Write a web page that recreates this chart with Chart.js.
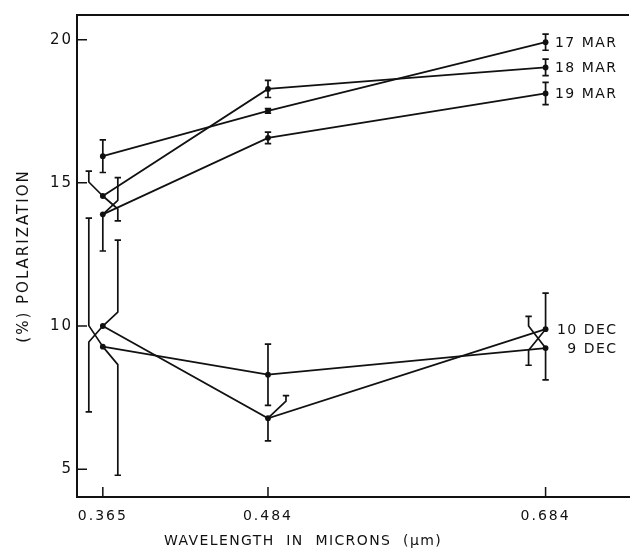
<!DOCTYPE html>
<html><head><meta charset="utf-8">
<script src="https://cdn.jsdelivr.net/npm/chart.js@4"></script>
<style>html,body{margin:0;padding:0;background:#fff}canvas{display:block}</style>
</head><body>
<canvas id="c" width="633" height="556"></canvas>
<script>
// ---- data ----
const wavelengths = [0.365, 0.484, 0.684];
const xTickLabels = ['0.365', '0.484', '0.684'];
const yTickValues = [5, 10, 15, 20];
const seriesNames = ['17 MAR', '18 MAR', '19 MAR', '10 DEC', '9 DEC'];
const mar17 = [15.93, 17.51, 19.91];
const mar18 = [14.54, 18.28, 19.03];
const mar19 = [13.90, 16.57, 18.12];
const dec10 = [10.00, 6.78, 9.89];
const dec9  = [9.28, 8.30, 9.23];
// error bar half-lengths (% polarization)
const mar17Err = [0.57, 0.08, 0.28];
const mar18Err = [0.87, 0.30, 0.29];
const mar19Err = [1.28, 0.20, 0.39];
const dec10Err = [3.00, 0.79, 1.26];
const dec9Err  = [4.49, 1.07, 1.11];

const seriesValues = [mar17, mar18, mar19, dec10, dec9];
const seriesErrors = [mar17Err, mar18Err, mar19Err, dec10Err, dec9Err];

// ---- style: half error bars drawn dodged sideways (series, point, half, dx px, knee dy px) ----
const dodges = [
  [1, 0,  1, -14, -14],
  [1, 0, -1,  15,  13],
  [2, 0,  1,  15, -14],
  [3, 0,  1,  15, -14],
  [3, 0, -1, -14,  16],
  [4, 0,  1, -14, -21],
  [4, 0, -1,  15,  18],
  [3, 1,  1,  18, -17],
  [3, 2, -1, -17,  21],
  [4, 2,  1, -17, -22]
];
const INK = '#111111';
const FONT = 'DejaVu Sans';
Chart.defaults.font.family = FONT;
Chart.defaults.font.size = 14;
Chart.defaults.color = INK;

const decor = {
  id: 'decor',
  beforeDraw(chart) { chart.ctx.letterSpacing = '2px'; },
  afterDatasetsDraw(chart) {
    const {ctx, scales: {x, y}} = chart;
    ctx.save();
    ctx.strokeStyle = INK;
    ctx.lineWidth = 1.7;
    ctx.lineJoin = 'round';
    const cap = 3.2;
    seriesValues.forEach((vals, s) => {
      vals.forEach((v, i) => {
        const px = x.getPixelForValue(wavelengths[i]);
        const py = y.getPixelForValue(v);
        [1, -1].forEach(dir => {
          const end = y.getPixelForValue(v + dir * seriesErrors[s][i]);
          const d = dodges.find(e => e[0] === s && e[1] === i && e[2] === dir);
          ctx.beginPath();
          ctx.moveTo(px, py);
          let cx = px;
          if (d) { cx = px + d[3]; ctx.lineTo(cx, py + d[4]); }
          ctx.lineTo(cx, end);
          ctx.moveTo(cx - cap, end);
          ctx.lineTo(cx + cap, end);
          ctx.stroke();
        });
      });
    });
    // series labels at the right end
    ctx.fillStyle = INK;
    ctx.font = '14px ' + FONT;
    ctx.letterSpacing = '1.5px';
    ctx.textAlign = 'right';
    ctx.textBaseline = 'middle';
    const last = wavelengths.length - 1;
    seriesValues.forEach((vals, s) => {
      const px = x.getPixelForValue(wavelengths[last]);
      const py = y.getPixelForValue(vals[last]);
      ctx.fillText(seriesNames[s], px + 72, py + 1);
    });
    ctx.restore();
  },
  afterDraw(chart) {
    const {ctx, chartArea: a, scales: {x, y}} = chart;
    ctx.save();
    ctx.strokeStyle = INK;
    ctx.lineWidth = 2;
    ctx.beginPath();
    ctx.moveTo(a.left - 1, a.top);
    ctx.lineTo(a.right, a.top);
    ctx.stroke();
    ctx.lineWidth = 1.5;
    ctx.beginPath();
    wavelengths.forEach(w => {
      const px = x.getPixelForValue(w);
      ctx.moveTo(px, a.bottom);
      ctx.lineTo(px, a.bottom - 10);
    });
    yTickValues.forEach(v => {
      const py = y.getPixelForValue(v);
      ctx.moveTo(a.left, py);
      ctx.lineTo(a.left + 10, py);
    });
    ctx.stroke();
    ctx.fillStyle = INK;
    ctx.font = '14px ' + FONT;
    ctx.letterSpacing = '1.4px';
    ctx.textAlign = 'center';
    ctx.textBaseline = 'middle';
    ctx.fillText('WAVELENGTH  IN  MICRONS  (\u03bcm)', a.left + 226, a.bottom + 44);
    ctx.restore();
  }
};

const mkData = vals => wavelengths.map((w, i) => ({x: w, y: vals[i]}));

new Chart(document.getElementById('c'), {
  type: 'line',
  data: {
    datasets: seriesValues.map((vals, s) => ({
      label: seriesNames[s],
      data: mkData(vals),
      borderColor: INK,
      borderWidth: 1.8,
      backgroundColor: INK,
      pointBackgroundColor: INK,
      pointBorderWidth: 0,
      pointRadius: 2.9,
      tension: 0,
      fill: false
    }))
  },
  options: {
    responsive: false,
    animation: false,
    devicePixelRatio: 1,
    layout: {padding: {top: 15, right: 0, left: 0, bottom: 0}},
    plugins: {legend: {display: false}, tooltip: {enabled: false}},
    scales: {
      x: {
        type: 'linear',
        min: 0.3464,
        max: 0.7441,
        afterBuildTicks: s => { s.ticks = wavelengths.map(v => ({value: v})); },
        afterFit: s => { s.height = 59; },
        ticks: {
          autoSkip: false, maxRotation: 0, padding: 11,
          callback: (v, i) => xTickLabels[i],
          color: INK, font: {size: 14}
        },
        grid: {display: false, drawTicks: false},
        border: {display: true, color: INK, width: 2}
      },
      y: {
        type: 'linear',
        min: 4.03,
        max: 20.86,
        afterBuildTicks: s => { s.ticks = yTickValues.map(v => ({value: v})); },
        afterFit: s => { s.width = 77; },
        ticks: {padding: 4, color: INK, font: {size: 15}, callback: v => String(v)},
        grid: {display: false, drawTicks: false},
        border: {display: true, color: INK, width: 2},
        title: {display: true, text: '(%) POLARIZATION', color: INK, font: {size: 15}, padding: {top: 15, bottom: 0}}
      }
    }
  },
  plugins: [decor]
});
</script>
</body></html>
